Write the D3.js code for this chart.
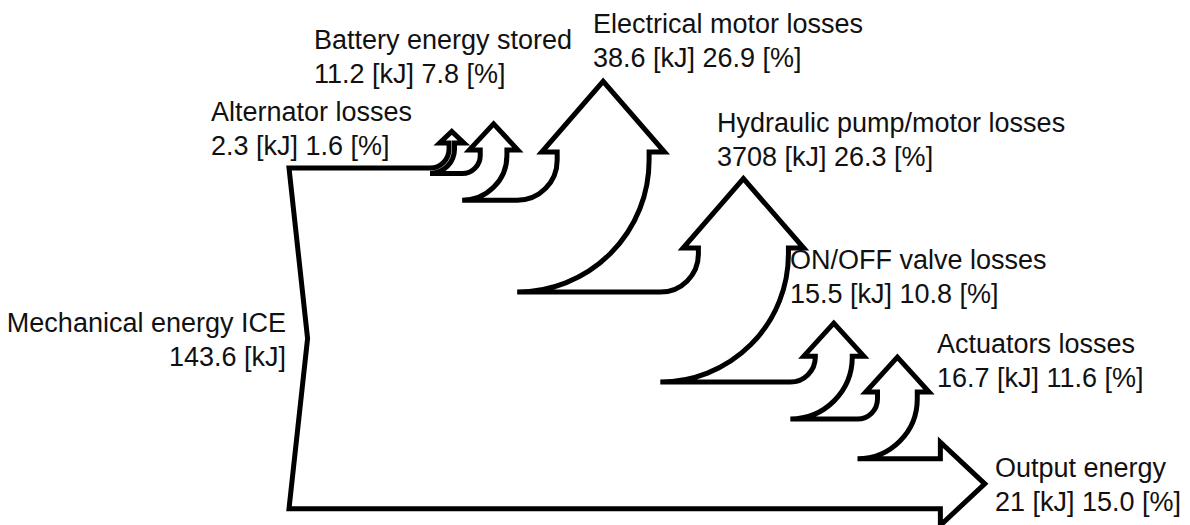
<!DOCTYPE html>
<html>
<head>
<meta charset="utf-8">
<script src="https://cdn.jsdelivr.net/npm/d3@7"></script>
<style>
  body { margin: 0; background: #fff; }
  text { font-family: "Liberation Sans", Arial, sans-serif; font-size: 27px; fill: #111; }
</style>
</head>
<body>
<div id="chart"></div>
<script>
// energy balance, outputs in order along the trunk (last one leaves to the right)
var names = ["Alternator losses", "Battery energy stored", "Electrical motor losses",
    "Hydraulic pump/motor losses", "ON/OFF valve losses", "Actuators losses", "Output energy"];
var energy = [2.3, 11.2, 38.6, 37.8, 15.5, 16.7, 21];
var energyText = ["2.3", "11.2", "38.6", "3708", "15.5", "16.7", "21"];
var percent = ["1.6", "7.8", "26.9", "26.3", "10.8", "11.6", "15.0"];
var inputName = "Mechanical energy ICE";
var inputEnergy = 143.6;

var width = 1190, height = 525;
var svg = d3.select("#chart").append("svg")
    .attr("width", width)
    .attr("height", height);

// kJ -> px
var k = d3.scaleLinear().domain([0, inputEnergy]).range([0, 342]);
var x0 = 289, y0 = 168;

// layout, in kJ units: where each flow turns (from trunk left edge), inner radius, rise to shoulder
var turnAt = [59.2, 72.7, 95.8, 155.9, 210.5, 238.7, 273.5];
var radius = [8, 7.6, 16.8, 16, 10.5, 8.4];
var rise = [10.5, 9.9, 20.2, 18.5, 10.9, 11.3];
var notch = 7.8;

var p = d3.path();
p.moveTo(x0, y0);
var level = y0;
for (var i = 0; i < 6; i++) {
    var w = k(energy[i]), xc = x0 + k(turnAt[i]), r = k(radius[i]);
    var base = level - k(rise[i]);
    var ext = 9 + 0.07 * w, half = w / 2 + ext, tipH = 1.2 * half - 3;
    p.lineTo(xc, level);
    p.arc(xc, level - r, r, Math.PI / 2, 0, true);
    p.lineTo(xc + r, base);
    p.lineTo(xc + r - ext, base);
    p.lineTo(xc + r + w / 2, base - tipH);
    p.lineTo(xc + r + w + ext, base);
    p.lineTo(xc + r + w, base);
    p.lineTo(xc + r + w, level - r);
    p.arc(xc, level - r, r + w, 0, Math.PI / 2, false);
    level += w;
}
// output energy, to the right
var wo = k(energy[6]), xe = x0 + k(turnAt[6]);
var exto = 9 + 0.07 * wo + 4, tipL = 1.07 * (wo / 2 + exto);
p.lineTo(xe, level);
p.lineTo(xe, level - exto);
p.lineTo(xe + tipL, level + wo / 2);
p.lineTo(xe, level + wo + exto);
p.lineTo(xe, level + wo);
p.lineTo(x0, level + wo);
p.lineTo(x0 + k(notch), (y0 + level + wo) / 2);
p.closePath();

svg.append("path")
    .attr("d", p.toString())
    .attr("fill", "#fff")
    .attr("stroke", "#000")
    .attr("stroke-width", 5)
    .attr("stroke-linejoin", "miter");

// labels
var labelX = [211, 314, 593, 717, 790, 937, 995];
var labelY = [121, 49, 33, 132, 269, 353, 477];
var lineGap = 34;

var lab = svg.append("g").selectAll("text")
    .data(names)
    .enter()
    .append("text")
    .attr("x", function (d, i) { return labelX[i] })
    .attr("y", function (d, i) { return labelY[i] });
lab.append("tspan").text(function (d) { return d });
lab.append("tspan")
    .attr("x", function (d, i) { return labelX[i] })
    .attr("dy", lineGap)
    .text(function (d, i) { return energyText[i] + " [kJ] " + percent[i] + " [%]" });

var inp = svg.append("text")
    .attr("x", 286)
    .attr("y", 332)
    .style("text-anchor", "end");
inp.append("tspan").text(inputName);
inp.append("tspan").attr("x", 286).attr("dy", lineGap).text(inputEnergy + " [kJ]");
</script>
</body>
</html>
